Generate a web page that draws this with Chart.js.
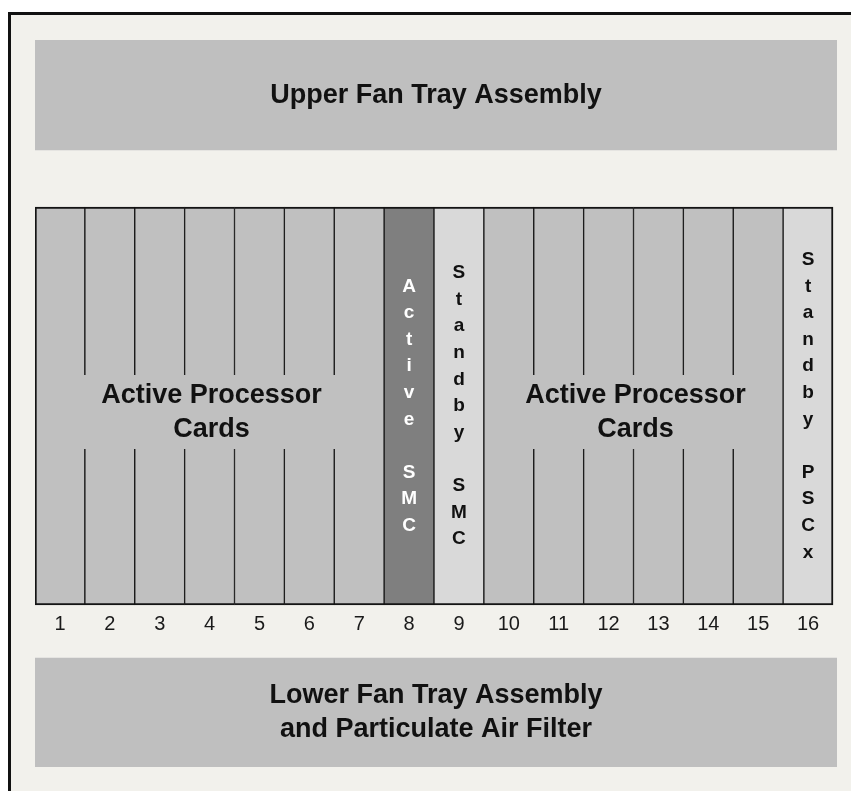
<!DOCTYPE html>
<html><head><meta charset="utf-8">
<script src="https://cdn.jsdelivr.net/npm/chart.js@4.4.1/dist/chart.umd.min.js"></script>
<style>html,body{margin:0;padding:0;background:#fff}canvas{display:block}</style>
</head><body>
<canvas id="c" width="851" height="791"></canvas>
<script>
// ---- data ----
const slotLabels = ['1','2','3','4','5','6','7','8','9','10','11','12','13','14','15','16'];
const slotTypes = ['proc','proc','proc','proc','proc','proc','proc','activeSMC','standbySMC','proc','proc','proc','proc','proc','proc','standbyPSC'];
const slotTexts = ['','','','','','','','Active SMC','Standby SMC','','','','','','','Standby PSCx'];
const slotRange = [162, 560];
const upperTray = [617, 727];
const lowerTray = [0, 109];
const trayLabels = [['Upper Fan Tray Assembly'], ['Lower Fan Tray Assembly', 'and Particulate Air Filter']];
const groupLabel = ['Active Processor', 'Cards'];
const groupSlots = [[1, 7], [10, 15]];
const labelGap = [318, 392];

// ---- styles ----
const typeColors = {proc: '#c0c0c0', activeSMC: '#7f7f7f', standbySMC: '#d9d9d9', standbyPSC: '#d9d9d9'};
const typeText = {proc: '#111111', activeSMC: '#ffffff', standbySMC: '#111111', standbyPSC: '#111111'};
const FONT = '"Liberation Sans", Arial, Helvetica, sans-serif';
const W = 851, H = 791;

const decor = {
  id: 'decor',
  beforeDraw(chart) {
    const ctx = chart.ctx;
    ctx.save();
    ctx.fillStyle = '#ffffff'; ctx.fillRect(0, 0, W, H);
    ctx.fillStyle = '#f2f1ec'; ctx.fillRect(8, 12, W, H);
    ctx.fillStyle = '#111111';
    ctx.fillRect(8, 12, 3, H);
    ctx.fillRect(8, 12, W, 3);
    ctx.restore();
  },
  afterDatasetsDraw(chart) {
    const ctx = chart.ctx;
    const x = chart.scales.x, y = chart.scales.y;
    const slots = chart.getDatasetMeta(0).data;
    ctx.save();
    ctx.textAlign = 'center';
    ctx.textBaseline = 'middle';
    // group labels
    groupSlots.forEach(([a, b]) => {
      const x1 = x.getPixelForValue(a), x2 = x.getPixelForValue(b);
      const yTop = y.getPixelForValue(labelGap[1]), yBot = y.getPixelForValue(labelGap[0]);
      ctx.fillStyle = typeColors.proc;
      ctx.fillRect(x1, yTop, x2 - x1, yBot - yTop);
      const cx = (x.getPixelForValue(a - 0.5) + x.getPixelForValue(b + 0.5)) / 2 + 2;
      const cy = (yTop + yBot) / 2 + 1;
      ctx.fillStyle = '#111111';
      ctx.font = 'bold 27px ' + FONT;
      groupLabel.forEach((t, i) => ctx.fillText(t, cx, cy + (i - (groupLabel.length - 1) / 2) * 34));
    });
    // vertical slot texts
    ctx.font = 'bold 19px ' + FONT;
    slots.forEach((el, i) => {
      const txt = slotTexts[i];
      if (!txt) return;
      const chars = txt.split('');
      const cy = (el.y + el.base) / 2;
      const lh = 26.6;
      ctx.fillStyle = typeText[slotTypes[i]];
      chars.forEach((ch, k) => {
        if (ch !== ' ') ctx.fillText(ch, el.x, cy + (k - (chars.length - 1) / 2) * lh);
      });
    });
    // tray labels
    ctx.font = 'bold 27px ' + FONT;
    ctx.fillStyle = '#111111';
    [1, 2].forEach((di, j) => {
      const el = chart.getDatasetMeta(di).data[0];
      const cy = (el.y + el.base) / 2 + (j === 0 ? 1 : 0);
      const lines = trayLabels[j];
      lines.forEach((t, i) => ctx.fillText(t, el.x, cy + (i - (lines.length - 1) / 2) * 34));
    });
    ctx.restore();
  }
};

new Chart(document.getElementById('c'), {
  type: 'bar',
  data: {
    datasets: [
      {
        label: 'Slots',
        data: slotLabels.map((l, i) => ({x: i + 1, y: slotRange})),
        xAxisID: 'x', yAxisID: 'y',
        backgroundColor: slotTypes.map(t => typeColors[t]),
        borderColor: '#141414',
        borderWidth: (c) => ({left: c.dataIndex === 0 ? 2 : 1, right: c.dataIndex === slotLabels.length - 1 ? 2 : 1, top: 2, bottom: 2}),
        borderSkipped: false,
        barPercentage: 1, categoryPercentage: 1,
        grouped: false, order: 1
      },
      {
        label: 'Upper Fan Tray',
        data: [upperTray],
        xAxisID: 'x2', yAxisID: 'y',
        backgroundColor: '#bfbfbf', borderWidth: 0,
        barPercentage: 1, categoryPercentage: 1, grouped: false
      },
      {
        label: 'Lower Fan Tray',
        data: [lowerTray],
        xAxisID: 'x2', yAxisID: 'y',
        backgroundColor: '#bfbfbf', borderWidth: 0,
        barPercentage: 1, categoryPercentage: 1, grouped: false
      }
    ]
  },
  options: {
    responsive: false,
    animation: false,
    events: [],
    layout: {padding: {left: 35, right: 14, top: 40, bottom: 24}},
    plugins: {legend: {display: false}, tooltip: {enabled: false}, title: {display: false}},
    scales: {
      x: {
        type: 'linear', min: 0.5, max: 16.58, offset: false,
        position: {y: slotRange[0]},
        afterBuildTicks: (s) => { s.ticks = slotLabels.map((l, i) => ({value: i + 1})); },
        ticks: {
          callback: (v, i) => slotLabels[i],
          font: {size: 20, family: FONT}, color: '#1a1a1a',
          padding: 7, maxRotation: 0, autoSkip: false
        },
        grid: {display: false, drawTicks: false, tickLength: 0, offset: false},
        border: {display: false}
      },
      x2: {type: 'category', labels: ['trays'], display: false, offset: true},
      y: {type: 'linear', min: 0, max: 727, display: false}
    }
  },
  plugins: [decor]
});
</script>
</body></html>
